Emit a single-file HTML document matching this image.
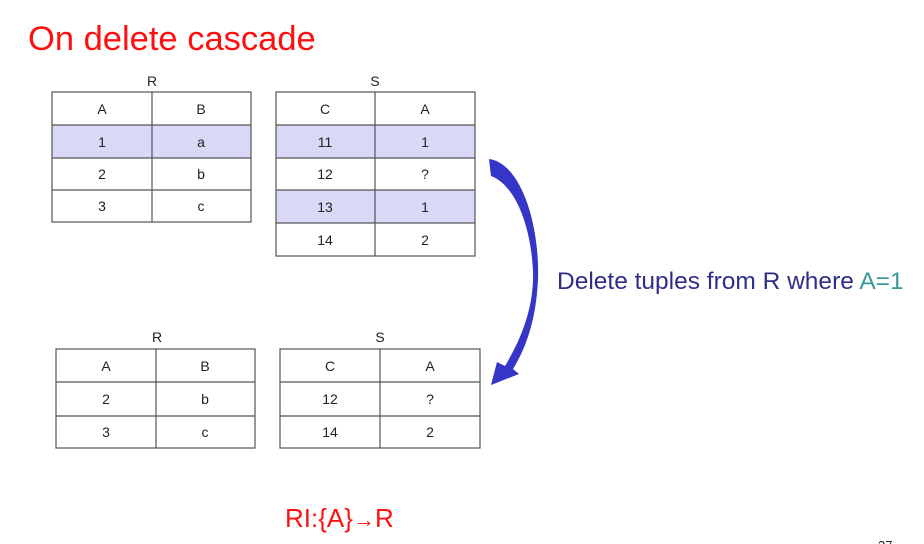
<!DOCTYPE html>
<html><head><meta charset="utf-8"><style>
html,body{margin:0;padding:0;background:#fff;}
svg{display:block;}
</style></head><body>
<svg width="924" height="544" viewBox="0 0 924 544" xmlns="http://www.w3.org/2000/svg" font-family="Liberation Sans, DejaVu Sans, sans-serif">
<rect width="924" height="544" fill="#fff"/>
<text x="28" y="50" font-size="34.5" fill="#ff1010">On delete cascade</text>

<!-- top R -->
<text x="152" y="86" font-size="14" text-anchor="middle" fill="#222">R</text>
<rect x="52" y="125" width="199" height="33" fill="#d9d9f7"/>
<g stroke="#555" stroke-width="1.2" fill="none">
<rect x="52" y="92" width="199" height="130"/>
<line x1="152" y1="92" x2="152" y2="222"/>
<line x1="52" y1="125" x2="251" y2="125"/>
<line x1="52" y1="158" x2="251" y2="158"/>
<line x1="52" y1="190" x2="251" y2="190"/>
</g>
<g font-size="14" text-anchor="middle" fill="#222">
<text x="102" y="114">A</text><text x="201" y="114">B</text>
<text x="102" y="147">1</text><text x="201" y="147">a</text>
<text x="102" y="179">2</text><text x="201" y="179">b</text>
<text x="102" y="211">3</text><text x="201" y="211">c</text>
</g>

<!-- top S -->
<text x="375" y="86" font-size="14" text-anchor="middle" fill="#222">S</text>
<rect x="276" y="125" width="199" height="33" fill="#d9d9f7"/>
<rect x="276" y="190" width="199" height="33" fill="#d9d9f7"/>
<g stroke="#555" stroke-width="1.2" fill="none">
<rect x="276" y="92" width="199" height="164"/>
<line x1="375" y1="92" x2="375" y2="256"/>
<line x1="276" y1="125" x2="475" y2="125"/>
<line x1="276" y1="158" x2="475" y2="158"/>
<line x1="276" y1="190" x2="475" y2="190"/>
<line x1="276" y1="223" x2="475" y2="223"/>
</g>
<g font-size="14" text-anchor="middle" fill="#222">
<text x="325" y="114">C</text><text x="425" y="114">A</text>
<text x="325" y="147">11</text><text x="425" y="147">1</text>
<text x="325" y="179">12</text><text x="425" y="179">?</text>
<text x="325" y="212">13</text><text x="425" y="212">1</text>
<text x="325" y="245">14</text><text x="425" y="245">2</text>
</g>

<!-- bottom R -->
<text x="157" y="342" font-size="14" text-anchor="middle" fill="#222">R</text>
<g stroke="#555" stroke-width="1.2" fill="none">
<rect x="56" y="349" width="199" height="99"/>
<line x1="156" y1="349" x2="156" y2="448"/>
<line x1="56" y1="382" x2="255" y2="382"/>
<line x1="56" y1="416" x2="255" y2="416"/>
</g>
<g font-size="14" text-anchor="middle" fill="#222">
<text x="106" y="371">A</text><text x="205" y="371">B</text>
<text x="106" y="404">2</text><text x="205" y="404">b</text>
<text x="106" y="437">3</text><text x="205" y="437">c</text>
</g>

<!-- bottom S -->
<text x="380" y="342" font-size="14" text-anchor="middle" fill="#222">S</text>
<g stroke="#555" stroke-width="1.2" fill="none">
<rect x="280" y="349" width="200" height="99"/>
<line x1="380" y1="349" x2="380" y2="448"/>
<line x1="280" y1="382" x2="480" y2="382"/>
<line x1="280" y1="416" x2="480" y2="416"/>
</g>
<g font-size="14" text-anchor="middle" fill="#222">
<text x="330" y="371">C</text><text x="430" y="371">A</text>
<text x="330" y="404">12</text><text x="430" y="404">?</text>
<text x="330" y="437">14</text><text x="430" y="437">2</text>
</g>

<!-- arrow -->
<path d="M489,159 C521,163 540,225 538,280 C536,320 526,348 513,369 L519,374 L491,385 L497,362 L505,366 C523,336 534,305 533,272 C531,225 515,185 491,176 Z" fill="#3535c8"/>

<text x="557" y="289" font-size="24.5" fill="#2e2e8a">Delete tuples from R where <tspan fill="#3a9a9a">A=1</tspan></text>

<text x="285" y="527" font-size="26" fill="#ff1010">RI:{A}<tspan font-size="22">→</tspan>R</text>
<text x="878" y="550" font-size="13" fill="#222">27</text>
</svg>
</body></html>
